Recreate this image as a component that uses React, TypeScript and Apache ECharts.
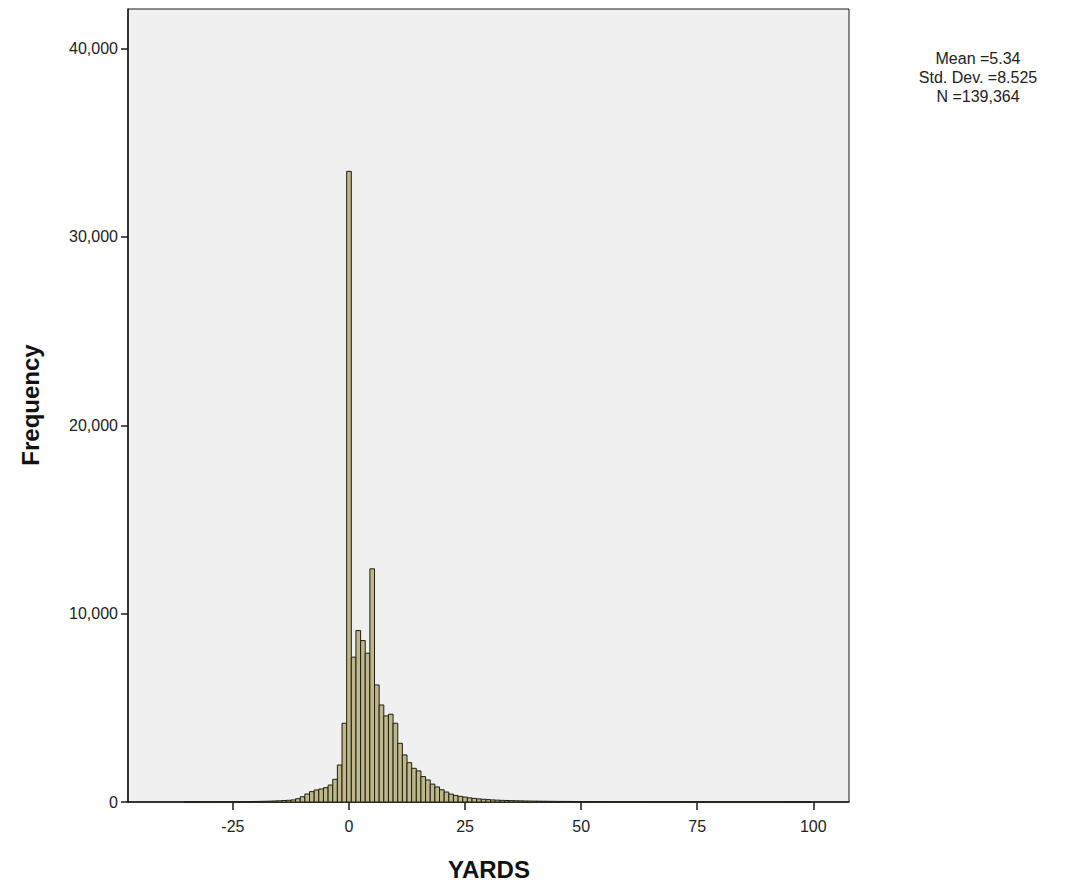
import React, { useEffect, useRef } from "react";
import * as echarts from "echarts";

// Histogram of YARDS: one bin per yard, first bin centred at -35
const firstYard = -35;
const frequencies: number[] = [
  // -35 .. -26
  3, 3, 4, 5, 6, 7, 8, 9, 10, 12,
  // -25 .. -16
  14, 16, 18, 21, 25, 29, 34, 40, 47, 55,
  // -15 .. -6
  65, 78, 92, 110, 175, 280, 425, 550, 640, 690,
  // -5 .. 4
  760, 900, 1205, 1965, 4180, 33480, 7690, 9100, 8570, 7900,
  // 5 .. 14
  12380, 6215, 5150, 4570, 4660, 4180, 3115, 2500, 2090, 1790,
  // 15 .. 24
  1650, 1350, 1170, 950, 800, 650, 530, 420, 350, 300,
  // 25 .. 34
  260, 220, 190, 165, 145, 125, 110, 98, 88, 80,
  // 35 .. 44
  72, 66, 60, 55, 51, 47, 44, 41, 38, 36,
  // 45 .. 54
  34, 32, 30, 28, 27, 26, 25, 24, 23, 22,
  // 55 .. 64
  21, 20, 19, 18, 18, 17, 16, 16, 15, 15,
  // 65 .. 74
  14, 14, 13, 13, 12, 12, 11, 11, 11, 10,
  // 75 .. 84
  10, 10, 9, 9, 9, 9, 8, 8, 8, 8,
  // 85 .. 94
  7, 7, 7, 7, 6, 6, 6, 6, 6, 5,
  // 95 .. 99
  5, 5, 5, 5, 6,
];

const xTickValues = [-25, 0, 25, 50, 75, 100];
const yTickValues = [0, 10000, 20000, 30000, 40000];
const statsLines = ["Mean =5.34", "Std. Dev. =8.525", "N =139,364"];

const FONT = "'Liberation Sans', Arial, sans-serif";

export default function App() {
  const ref = useRef<HTMLDivElement>(null);

  useEffect(() => {
    if (!ref.current) return;
    const chart = echarts.init(ref.current, undefined, { renderer: "svg" });
    const data = frequencies.map((f, i) => [firstYard + i, f]);

    chart.setOption({
      animation: false,
      backgroundColor: "#ffffff",
      grid: {
        left: 128,
        top: 9,
        width: 721,
        height: 793,
        show: true,
        backgroundColor: "#F0F0F0",
        borderColor: "#1a1a1a",
        borderWidth: 1,
      },
      xAxis: {
        type: "value",
        min: -47.6,
        max: 107.7,
        splitLine: { show: false },
        axisLine: { show: true, onZero: false, lineStyle: { color: "#1a1a1a", width: 1.5 } },
        axisTick: {
          show: true,
          length: 8,
          customValues: xTickValues,
          lineStyle: { color: "#1a1a1a", width: 1.5 },
        },
        axisLabel: {
          customValues: xTickValues,
          color: "#222",
          fontFamily: FONT,
          fontSize: 16,
          margin: 16,
        },
      },
      yAxis: {
        type: "value",
        min: 0,
        max: 42100,
        splitLine: { show: false },
        axisLine: { show: true, onZero: false, lineStyle: { color: "#1a1a1a", width: 1.5 } },
        axisTick: {
          show: true,
          length: 7,
          customValues: yTickValues,
          lineStyle: { color: "#1a1a1a", width: 1.5 },
        },
        axisLabel: {
          customValues: yTickValues,
          color: "#222",
          fontFamily: FONT,
          fontSize: 16,
          margin: 10,
          formatter: (v: number) => v.toLocaleString("en-US"),
        },
      },
      series: [
        {
          type: "custom",
          data,
          encode: { x: 0, y: 1 },
          renderItem: (params: any, api: any) => {
            const x = api.value(0);
            const y = api.value(1);
            const p0 = api.coord([x - 0.5, y]);
            const p1 = api.coord([x + 0.5, 0]);
            return {
              type: "rect",
              shape: {
                x: p0[0],
                y: p0[1],
                width: p1[0] - p0[0],
                height: p1[1] - p0[1],
              },
              style: { fill: "#BDB78A", stroke: "#1e1e14", lineWidth: 1 },
            };
          },
        },
      ],
      graphic: [
        {
          type: "text",
          x: 30,
          y: 405,
          rotation: Math.PI / 2,
          style: {
            text: "Frequency",
            fill: "#111",
            font: `bold 24px ${FONT}`,
            align: "center",
            verticalAlign: "middle",
          },
        },
        {
          type: "text",
          x: 489,
          y: 869,
          style: {
            text: "YARDS",
            fill: "#111",
            font: `bold 24px ${FONT}`,
            align: "center",
            verticalAlign: "middle",
          },
        },
        ...statsLines.map((t, i) => ({
          type: "text",
          x: 978,
          y: 58 + i * 19,
          style: {
            text: t,
            fill: "#222",
            font: `16px ${FONT}`,
            align: "center",
            verticalAlign: "middle",
          },
        })),
      ],
    });

    return () => chart.dispose();
  }, []);

  return (
    <div
      ref={ref}
      style={{ position: "fixed", left: 0, top: 0, width: 1072, height: 884 }}
    />
  );
}
